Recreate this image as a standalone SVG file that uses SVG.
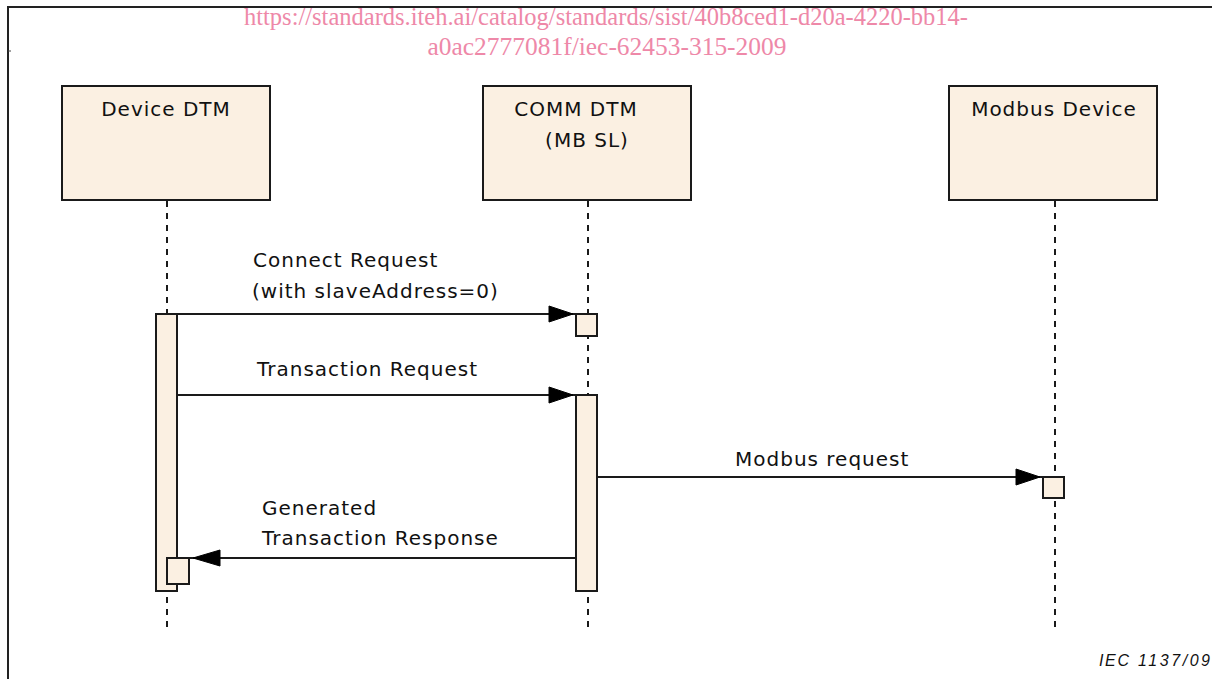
<svg xmlns="http://www.w3.org/2000/svg" width="1212" height="679" viewBox="0 0 1212 679">
<style>
.box{fill:#fbf0e2;stroke:#1a1a1a;stroke-width:2}
.life{stroke:#1a1a1a;stroke-width:2;stroke-dasharray:6 6;fill:none}
.msg{stroke:#1a1a1a;stroke-width:2;fill:none}
.head{fill:#000;stroke:#000;stroke-width:1}
.t{font-family:"DejaVu Sans",sans-serif;font-size:20px;letter-spacing:1px;fill:#111}
.wm{font-family:"Liberation Serif",serif;font-size:25px;fill:#ee88a8}
.iec{font-family:"Liberation Sans",Arial,sans-serif;font-size:16px;font-style:italic;fill:#111}
</style>
<rect width="1212" height="679" fill="#fff"/>
<path d="M8,679 V7 H1212" fill="none" stroke="#222" stroke-width="2"/>
<line x1="8" y1="51" x2="11" y2="51" stroke="#444" stroke-width="1"/>
<g id="watermark">
<text class="wm" x="606" y="25" text-anchor="middle" textLength="724" lengthAdjust="spacingAndGlyphs">https://standards.iteh.ai/catalog/standards/sist/40b8ced1-d20a-4220-bb14-</text>
<text class="wm" x="607" y="55" text-anchor="middle" textLength="359" lengthAdjust="spacingAndGlyphs">a0ac2777081f/iec-62453-315-2009</text>
</g>
<g id="lifelines">
<line class="life" x1="167" y1="201" x2="167" y2="628"/>
<line class="life" x1="588" y1="201" x2="588" y2="628"/>
<line class="life" x1="1055" y1="201" x2="1055" y2="628"/>
</g>
<g id="device-dtm">
<rect class="box" x="62" y="86" width="208" height="114"/>
<text class="t" x="166" y="116" text-anchor="middle">Device DTM</text>
<rect class="box" x="156" y="314" width="21" height="277"/>
<rect class="box" x="167" y="558" width="22" height="26"/>
</g>
<g id="comm-dtm">
<rect class="box" x="483" y="86" width="208" height="114"/>
<text class="t" x="576" y="116" text-anchor="middle">COMM DTM</text>
<text class="t" x="587" y="147" text-anchor="middle">(MB SL)</text>
<rect class="box" x="576" y="314" width="21" height="22"/>
<rect class="box" x="576" y="395" width="21" height="196"/>
</g>
<g id="modbus-device">
<rect class="box" x="949" y="86" width="208" height="114"/>
<text class="t" x="1054" y="116" text-anchor="middle">Modbus Device</text>
<rect class="box" x="1043" y="477" width="21" height="21"/>
</g>
<g id="connectors">
<line class="msg" x1="177" y1="314" x2="576" y2="314"/>
<polygon class="head" points="549,306 573,314 549,322"/>
<text class="t" x="253" y="267">Connect Request</text>
<text class="t" x="252" y="298">(with slaveAddress=0)</text>
<line class="msg" x1="177" y1="395" x2="576" y2="395"/>
<polygon class="head" points="549,387 573,395 549,403"/>
<text class="t" x="257" y="376">Transaction Request</text>
<line class="msg" x1="597" y1="477" x2="1043" y2="477"/>
<polygon class="head" points="1016,469 1040,477 1016,485"/>
<text class="t" x="735" y="466">Modbus request</text>
<line class="msg" x1="576" y1="558" x2="189" y2="558"/>
<polygon class="head" points="220,550 193,558 220,566"/>
<text class="t" x="262" y="515">Generated</text>
<text class="t" x="262" y="545">Transaction Response</text>
</g>
<text class="iec" y="666"><tspan x="1099" textLength="30" lengthAdjust="spacing">IEC</tspan> <tspan x="1138" textLength="72" lengthAdjust="spacing">1137/09</tspan></text>
</svg>
